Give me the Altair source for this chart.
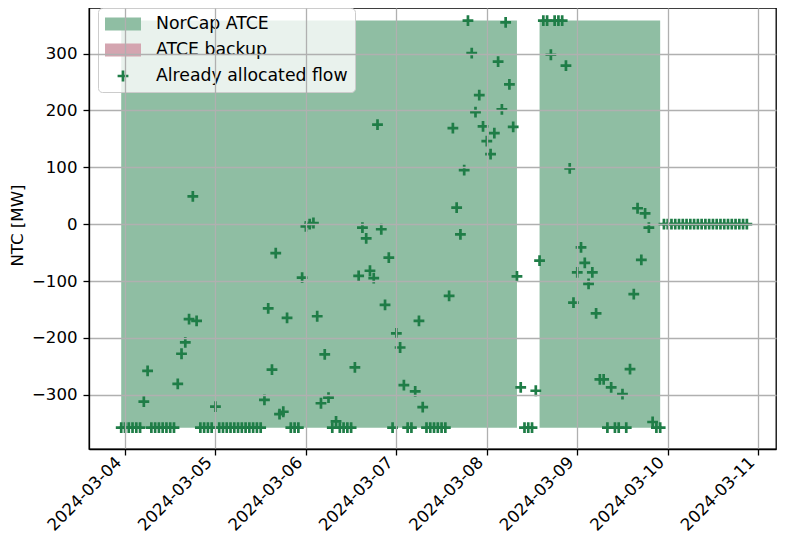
import altair as alt
import pandas as pd

# ---------------- data ----------------
start_time = "2024-03-03 23:00"   # first hourly sample

already_allocated = [
    # 03-03 23h .. 03-04 23h
    -358, -358, -358, -358, -358, -358, -312, -258, -358, -358, -358, -358, -358,
    -358, -358, -281, -228, -208, -167, 49, -170, -358, -358, -358, -358,
    # 03-05
    -321, -358, -358, -358, -358, -358, -358, -358, -358, -358, -358, -358,
    -358, -309, -148, -256, -51, -334, -330, -165, -358, -358, -358, -94,
    # 03-06
    -4, 0, 2, -162, -315, -229, -305, -358, -347, -358, -358, -358,
    -358, -252, -91, -6, -25, -82, -95, 175, -9, -142, -59, -358,
    # 03-07
    -192, -217, -283, -358, -358, -294, -170, -322, -358, -358, -358, -358,
    -358, -358, -126, 169, 29, -18, 95, 358, 301, 197, 227, 172,
    # 03-08
    146, 123, 160, 286, 202, 355, 246, 171, -92, -287, -358, -358,
    -358, -293, -64, 358, 358, 298, 358, 358, 358, 279, 98, -138,
    # 03-09
    -85, -41, -68, -105, -85, -157, -273, -273, -358, -287, -358, -358,
    -299, -358, -255, -123, 28, -63, 19, -6, -348, -358, -358, 0,
    # 03-10
    0, 0, 0, 0, 0, 0, 0, 0, 0, 0, 0, 0,
    0, 0, 0, 0, 0, 0, 0, 0, 0, 0,
]

norcap_upper = [358] * 106 + [None] * 5 + [358] * 33 + [None] * 23
norcap_lower = [-358] * 106 + [None] * 5 + [-358] * 33 + [None] * 23

series_names = ["NorCap ATCE", "ATCE backup", "Already allocated flow"]
series_colors = ["#8fbea3", "#d4a5b0", "#1f7d47"]

x_tick_days = [4, 5, 6, 7, 8, 9, 10, 11]
y_tick_values = [-300, -200, -100, 0, 100, 200, 300]

# ---------------- tables ----------------
ts = pd.date_range(start_time, periods=len(already_allocated), freq="h").strftime("%Y-%m-%dT%H:%M:%S")

flow_df = pd.DataFrame({"ts": ts, "flow": already_allocated,
                        "series": series_names[2]})

rows = []
seg = 0
prev_none = False
for t, u, l in zip(ts, norcap_upper, norcap_lower):
    if u is None:
        prev_none = True
        continue
    if prev_none:
        seg += 1
        prev_none = False
    rows.append({"ts": t, "upper": u, "lower": l, "seg": seg, "series": series_names[0]})
area_df = pd.DataFrame(rows)

# ---------------- styling ----------------
FONT = "DejaVu Sans"
FS = 16.6
SYM = 324  # symbol area -> scale factor 9 px per path unit
rect_path = "M-2,-0.72H2V0.72H-2Z"
plus_path = ("M-0.6,-0.15H-0.15V-0.6H0.15V-0.15H0.6V0.15H0.15V0.6"
             "H-0.15V0.15H-0.6Z")

color_scale = alt.Scale(domain=series_names, range=series_colors)
shape_scale = alt.Scale(domain=series_names, range=[rect_path, rect_path, plus_path])

legend = alt.Legend(
    title=None, orient="none", legendX=9, legendY=0,
    labelFont=FONT, labelFontSize=17.3, labelColor="black", labelLimit=400,
    symbolSize=SYM, symbolStrokeWidth=0, symbolOpacity=1, symbolOffset=9,
    fillColor="rgba(255,255,255,0.8)", strokeColor="#cccccc",
    cornerRadius=4, padding=7, rowPadding=8, labelOffset=24,
)

x_scale = alt.Scale(
    domain=[alt.DateTime(year=2024, month=3, date=3, hours=14, minutes=27),
            alt.DateTime(year=2024, month=3, date=11, hours=4, minutes=44)],
    nice=False,
)
y_scale = alt.Scale(domain=[-395.5, 380.2], nice=False, zero=False)

x_axis = alt.Axis(
    values=[alt.DateTime(year=2024, month=3, date=d) for d in x_tick_days],
    format="%Y-%m-%d", title=None,
    labelAngle=-45, labelAlign="right", labelBaseline="alphabetic",
    labelOffset=-3, labelPadding=8, labelOverlap=False, labelFlush=False,
    labelFont=FONT, labelFontSize=FS, labelColor="black",
    tickSize=6, tickWidth=1.3, tickColor="black",
    domainColor="black", domainWidth=1.3,
    grid=True, gridColor="#b0b0b0", gridWidth=1.3, zindex=1,
)
y_axis = alt.Axis(
    values=y_tick_values, title="NTC [MW]",
    titleFont=FONT, titleFontSize=FS, titleFontWeight="normal", titleColor="black",
    titleX=-72, titleY=217, titleAlign="center", titleBaseline="middle",
    labelFont=FONT, labelFontSize=FS, labelColor="black", labelPadding=6,
    tickSize=6, tickWidth=1.3, tickColor="black",
    domainColor="black", domainWidth=1.3,
    grid=True, gridColor="#b0b0b0", gridWidth=1.3, zindex=1,
)

area = alt.Chart(area_df).mark_area(opacity=1, interpolate="linear").encode(
    x=alt.X("ts:T", scale=x_scale, axis=x_axis),
    y=alt.Y("upper:Q", scale=y_scale, axis=y_axis, stack=None),
    y2="lower:Q",
    detail="seg:N",
    color=alt.Color("series:N", scale=color_scale, legend=legend),
)

points = alt.Chart(flow_df).mark_point(filled=True, size=SYM, opacity=1, strokeWidth=0).encode(
    x=alt.X("ts:T", scale=x_scale, axis=x_axis),
    y=alt.Y("flow:Q", scale=y_scale, axis=y_axis),
    color=alt.Color("series:N", scale=color_scale, legend=legend),
    shape=alt.Shape("series:N", scale=shape_scale, legend=legend),
)

chart = alt.layer(area, points).properties(
    width=687, height=441,
    autosize=alt.AutoSizeParams(type="none"),
    padding={"left": 81, "top": 0, "right": 1, "bottom": 87},
    background="white",
).configure_view(stroke="black", strokeWidth=1.3)

chart.save("out.html", embed_options={"renderer": "svg", "actions": False})
